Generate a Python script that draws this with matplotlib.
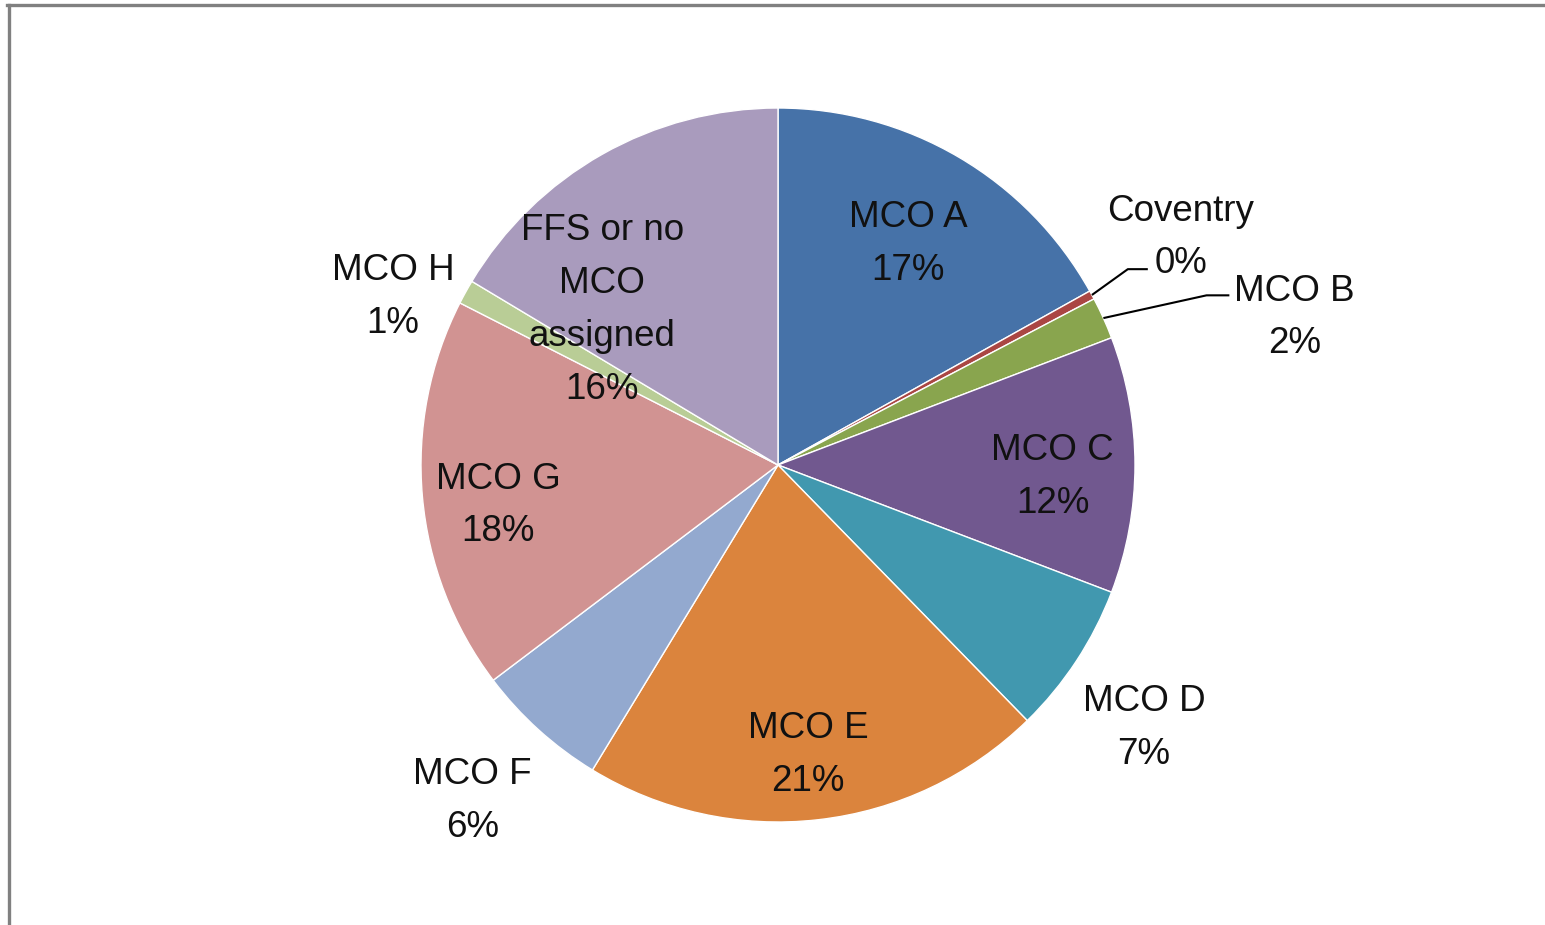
import numpy as np
import matplotlib
matplotlib.use("Agg")
import matplotlib.pyplot as plt
from matplotlib.lines import Line2D

# slice data, clockwise from 12 o'clock
names = ["MCO A", "Coventry", "MCO B", "MCO C", "MCO D", "MCO E",
         "MCO F", "MCO G", "MCO H", "FFS or no\nMCO\nassigned"]
shares = [16.9, 0.4, 1.9, 11.6, 6.9, 21.0, 6.0, 17.8, 1.1, 16.4]
shown_pct = ["17%", "0%", "2%", "12%", "7%", "21%", "6%", "18%", "1%", "16%"]

colors = ["#4672A8", "#AA4643", "#89A54E", "#71588F", "#4198AF",
          "#DB843D", "#93A9CF", "#D19392", "#B9CD96", "#A99BBD"]

# label placement: radius (pie radius = 1) and clockwise angle shift (deg)
lab_r = [0.73, 1.302, 1.508, 0.77, 1.255, 0.803, 1.263, 0.791, 1.182, 0.665]
lab_shift = [-0.4, -1.5, 7.9, 1.5, 1.9, 0.5, 0.5, -2.3, -4.8, -18.3]
# leader lines for small outside slices: (elbow radius, elbow angle shift, end x offset)
leaders = {1: (1.123, -0.8, 0.056), 2: (1.291, 2.7, 0.064)}

W, H = 1545, 925
cx, cy, R = 778, 465, 357

plt.rcParams["font.family"] = ["Liberation Sans", "DejaVu Sans"]
fig = plt.figure(figsize=(W / 100, H / 100), dpi=100)
ax = fig.add_axes([0, 0, 1, 1])

wedges, _ = ax.pie(shares, colors=colors, startangle=90, counterclock=False,
                   radius=1, wedgeprops=dict(edgecolor="white", linewidth=1.0))
ax.set_xlim(-cx / R, (W - cx) / R)
ax.set_ylim(-(H - cy) / R, cy / R)
ax.set_aspect("auto")
ax.axis("off")

for i, w in enumerate(wedges):
    mid = (w.theta1 + w.theta2) / 2
    ang = np.radians(mid - lab_shift[i])
    tx, ty = lab_r[i] * np.cos(ang), lab_r[i] * np.sin(ang) - 4.5 / R
    ax.text(tx, ty, names[i] + "\n" + shown_pct[i], ha="center", va="center",
            fontsize=26.5, color="#111111", linespacing=1.66)
    if i in leaders:
        er, eshift, dx = leaders[i]
        a0 = np.radians(mid)
        x0, y0 = np.cos(a0), np.sin(a0)
        a1 = np.radians(mid - eshift)
        x1, y1 = er * np.cos(a1), er * np.sin(a1)
        ax.plot([x0, x1, x1 + dx], [y0, y1, y1], color="black", lw=1.5,
                solid_capstyle="butt")

# chart border (only top and left edges visible in the crop)
fig.add_artist(Line2D([8.5 / W, 8.5 / W], [0, 1 - 4.5 / H], color="#808080",
                      lw=2.4, transform=fig.transFigure))
fig.add_artist(Line2D([7.3 / W, 1], [1 - 4.5 / H, 1 - 4.5 / H], color="#808080",
                      lw=2.4, transform=fig.transFigure))

fig.savefig("out.png", dpi=100)
